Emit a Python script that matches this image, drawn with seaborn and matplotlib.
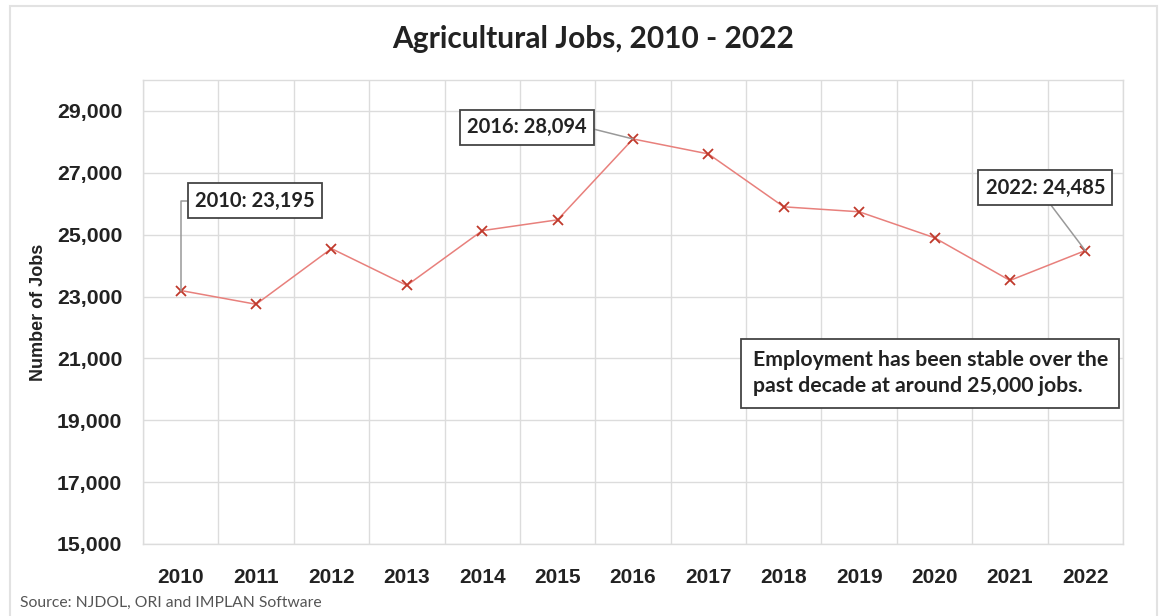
import matplotlib
matplotlib.use("Agg")
import matplotlib.pyplot as plt
import matplotlib.ticker as mticker
from matplotlib.patches import Rectangle
import seaborn as sns
import pandas as pd

years = [2010, 2011, 2012, 2013, 2014, 2015, 2016, 2017, 2018, 2019, 2020, 2021, 2022]
jobs = [23195, 22750, 24550, 23360, 25130, 25480, 28094, 27610, 25900, 25740, 24900, 23520, 24485]
y_ticks = [15000, 17000, 19000, 21000, 23000, 25000, 27000, 29000]
callout_years = [2010, 2016, 2022]
title = "Agricultural Jobs, 2010 - 2022"
y_label = "Number of Jobs"
note = "Employment has been stable over the\npast decade at around 25,000 jobs."
source = "Source: NJDOL, ORI and IMPLAN Software"

df = pd.DataFrame({"Year": years, "Jobs": jobs})

sns.set_theme(style="white")
plt.rcParams["font.family"] = ["Liberation Sans", "DejaVu Sans"]

fig = plt.figure(figsize=(11.62, 6.16), dpi=100)
ax = fig.add_axes([143 / 1162, 1 - 544 / 616, 980 / 1162, 464 / 616])

sns.lineplot(data=df, x="Year", y="Jobs", ax=ax, color="#e8807c", linewidth=1.1,
             marker="x", markersize=7, markeredgecolor="#c0392b", markeredgewidth=1.3)

ax.set_xlim(years[0] - 0.5, years[-1] + 0.5)
ax.set_ylim(15000, 30000)
ax.set_xticks(years)
ax.set_xticks([y - 0.5 for y in years] + [years[-1] + 0.5], minor=True)
ax.set_yticks(y_ticks)
ax.yaxis.set_major_formatter(mticker.FuncFormatter(lambda v, p: f"{int(v):,}"))
ax.grid(False)
ax.grid(True, axis="y", which="major", color="#dcdcdc", linewidth=1)
ax.grid(True, axis="x", which="minor", color="#dcdcdc", linewidth=1)
ax.tick_params(axis="both", which="both", length=0)
ax.tick_params(axis="y", pad=15, labelsize=15.3)
ax.tick_params(axis="x", pad=17, labelsize=15)
for lab in ax.get_xticklabels() + ax.get_yticklabels():
    lab.set_fontweight("bold")
    lab.set_color("#222222")
for s in ax.spines.values():
    s.set_color("#dcdcdc")
    s.set_linewidth(1)
ax.set_xlabel("")
ax.set_ylabel(y_label, fontsize=13, fontweight="bold", color="#222222", labelpad=7)

# callouts
bbox_kw = dict(boxstyle="square,pad=0.36", facecolor="white", edgecolor="#444444", linewidth=1.3)
ann_font = dict(fontsize=14.5, fontweight="bold", color="#222222", family=["Lato", "DejaVu Sans"])
val = dict(zip(years, jobs))
ax.annotate(f"{2010}: {val[2010]:,}", xy=(2010, val[2010]), xytext=(2010.98, 26100),
            ha="center", va="center", bbox=bbox_kw, **ann_font,
            arrowprops=dict(arrowstyle="-", color="#999999", lw=1.1,
                            connectionstyle="angle,angleA=0,angleB=90,rad=0",
                            relpos=(0, 0.5), shrinkA=0, shrinkB=0))
ax.annotate(f"{2016}: {val[2016]:,}", xy=(2016, val[2016]), xytext=(2014.59, 28470),
            ha="center", va="center", bbox=bbox_kw, **ann_font,
            arrowprops=dict(arrowstyle="-", color="#999999", lw=1.1,
                            relpos=(1, 0.5), shrinkA=0, shrinkB=0))
ax.annotate(f"{2022}: {val[2022]:,}", xy=(2022, val[2022]), xytext=(2021.47, 26520),
            ha="center", va="center", bbox=bbox_kw, **ann_font,
            arrowprops=dict(arrowstyle="-", color="#999999", lw=1.1,
                            relpos=(0.5, 0), shrinkA=0, shrinkB=0))

ax.text(0.622, 0.3685, note, transform=ax.transAxes, ha="left", va="center",
        fontsize=15.3, fontweight="bold", color="#222222", family=["Lato", "DejaVu Sans"],
        linespacing=1.35,
        bbox=dict(boxstyle="square,pad=0.55", facecolor="white", edgecolor="#444444", linewidth=1.3))

fig.text(593 / 1162, 1 - 39 / 616, title, ha="center", va="center", fontsize=21.5,
         fontweight="bold", color="#222222", family=["Lato", "DejaVu Sans"])
fig.text(20 / 1162, 1 - 603 / 616, source, ha="left", va="center", fontsize=11.3,
         color="#555555", family=["Lato", "DejaVu Sans"])

fig.patches.append(Rectangle((10 / 1162, -0.1), 1147 / 1162, 1.1 - 6 / 616,
                             transform=fig.transFigure, fill=False,
                             edgecolor="#e2e2e2", linewidth=1.5))

fig.savefig("out.png", dpi=100, facecolor="white")
